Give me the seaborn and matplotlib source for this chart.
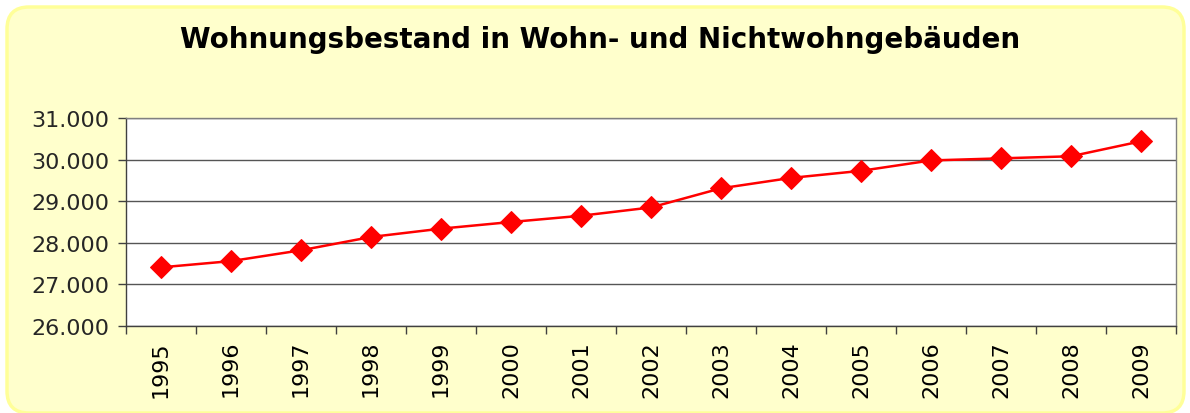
import matplotlib
matplotlib.use("Agg")
import matplotlib.pyplot as plt
import seaborn as sns
import pandas as pd
from matplotlib.patches import FancyBboxPatch
from matplotlib.ticker import FuncFormatter, MultipleLocator, FixedLocator

years = ["1995", "1996", "1997", "1998", "1999", "2000", "2001", "2002",
         "2003", "2004", "2005", "2006", "2007", "2008", "2009"]
values = [27410, 27560, 27820, 28140, 28340, 28500, 28650, 28850,
          29310, 29560, 29730, 29980, 30030, 30080, 30440]

title = "Wohnungsbestand in Wohn- und Nichtwohngebäuden"

sns.set_style("white")
plt.rcParams['font.family'] = ['DejaVu Sans']

df = pd.DataFrame({"Jahr": years, "Wert": values})
df["pos"] = range(len(years))

fig = plt.figure(figsize=(11.9, 4.14), dpi=100)
fig.patch.set_facecolor("white")

# background panel in pixel coordinates
bgax = fig.add_axes([0, 0, 1, 1], zorder=-5)
bgax.set_xlim(0, 1190)
bgax.set_ylim(0, 414)
bgax.axis("off")
bg = FancyBboxPatch((7, 0), 1177, 406,
                    boxstyle="round,pad=0,rounding_size=22",
                    facecolor="#FFFFCC", edgecolor="#FFFF99", linewidth=2.5)
bgax.add_patch(bg)

ax = fig.add_axes([126 / 1190, 1 - 327 / 414, 1050 / 1190, 208 / 414], zorder=1)
ax.set_facecolor("white")

sns.lineplot(data=df, x="pos", y="Wert", ax=ax, color="#FF0000",
             linewidth=1.8, marker="D", markersize=11,
             markeredgecolor="#FF0000", markerfacecolor="#FF0000", zorder=3)

ax.set_xlim(-0.5, len(years) - 0.5)
ax.set_ylim(26000, 31000)
ax.yaxis.set_major_locator(MultipleLocator(1000))
ax.yaxis.set_major_formatter(FuncFormatter(lambda v, p: f"{int(v):,}".replace(",", ".")))
ax.grid(axis="y", color="#555555", linewidth=1.0)
ax.grid(axis="x", visible=False)
ax.set_axisbelow(True)

ax.xaxis.set_major_locator(FixedLocator(list(range(len(years)))))
ax.set_xticklabels(years, rotation=90)
ax.xaxis.set_minor_locator(FixedLocator([i - 0.5 for i in range(len(years) + 1)]))
ax.tick_params(axis="x", which="major", length=0, pad=10, labelsize=16, colors="black")
ax.tick_params(axis="x", which="minor", bottom=True, length=6, width=1,
               color="#404040", direction="out")
ax.tick_params(axis="y", which="major", length=6, width=1, color="#404040",
               direction="out", labelsize=16, pad=6, left=True)

ax.set_xlabel("")
ax.set_ylabel("")

for s in ["left", "bottom"]:
    ax.spines[s].set_color("#404040")
    ax.spines[s].set_linewidth(1.0)
for s in ["right", "top"]:
    ax.spines[s].set_color("#808080")
    ax.spines[s].set_linewidth(1.0)

fig.text(600 / 1190, 1 - 40 / 414, title, ha="center", va="center",
         fontsize=20, fontweight="bold", color="black", zorder=5)

fig.savefig("out.png", dpi=100, facecolor=fig.get_facecolor())
